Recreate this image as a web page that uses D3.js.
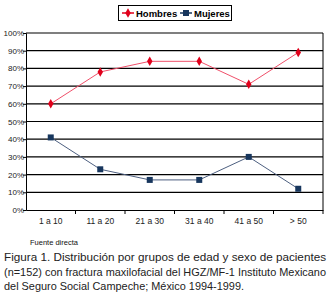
<!DOCTYPE html>
<html><head><meta charset="utf-8">
<script src="https://cdn.jsdelivr.net/npm/d3@7"></script>
<style>body{margin:0;background:#fff}svg{display:block}text{font-family:"Liberation Sans",Arial,sans-serif}</style>
</head><body><svg id="c" width="331" height="296"></svg>
<script>
const categories = ["1 a 10","11 a 20","21 a 30","31 a 40","41 a 50","> 50"];
const hombres = [60,78,84,84,71,89];
const mujeres = [41,23,17,17,30,12];
const yTicks = [0,10,20,30,40,50,60,70,80,90,100];
const caption = ["Figura 1. Distribución por grupos de edad y sexo de pacientes",
 "(n=152) con fractura maxilofacial del HGZ/MF-1 Instituto Mexicano",
 "del Seguro Social Campeche; México 1994-1999."];

const svg = d3.select("#c");
const L=26, R=323, T=33, B=210;
const x = d3.scaleBand().domain(categories).range([L,R]);
const y = d3.scaleLinear().domain([0,100]).range([B,T]);

svg.append("g").selectAll("line").data(yTicks.filter(d=>d>0)).join("line")
 .attr("x1",L).attr("x2",R).attr("y1",d=>y(d)).attr("y2",d=>y(d))
 .attr("stroke","#000").attr("stroke-width",1.2);
svg.append("line").attr("x1",R).attr("x2",R).attr("y1",T).attr("y2",B).attr("stroke","#000").attr("stroke-width",1);

const yAxis = d3.axisLeft(y).tickValues(yTicks).tickFormat(d=>d+"%").tickSize(3);
const gy = svg.append("g").attr("transform",`translate(${L},0)`).call(yAxis);
gy.selectAll("text").attr("font-size",8).attr("fill","#222").attr("x",-2).style("font-family","Liberation Sans, Arial");
gy.select(".domain").attr("stroke","#000");

const xAxis = d3.axisBottom(x).tickSize(0).tickPadding(8);
const gx = svg.append("g").attr("transform",`translate(0,${B})`).call(xAxis);
gx.selectAll("text").attr("font-size",8.5).attr("fill","#222").style("font-family","Liberation Sans, Arial");
gx.select(".domain").attr("stroke","#000");
svg.append("g").selectAll("line").data(categories).join("line")
 .attr("x1",d=>x(d)+x.bandwidth()).attr("x2",d=>x(d)+x.bandwidth())
 .attr("y1",B).attr("y2",B+4).attr("stroke","#000");

const line = d3.line().x((d,i)=>x(categories[i])+x.bandwidth()/2).y(d=>y(d));
svg.append("path").datum(hombres).attr("d",line).attr("fill","none").attr("stroke","#f0506a").attr("stroke-width",1);
svg.append("path").datum(mujeres).attr("d",line).attr("fill","none").attr("stroke","#4d5f80").attr("stroke-width",1);
svg.append("g").selectAll("path").data(hombres).join("path")
 .attr("d",d3.symbol(d3.symbolDiamond,26))
 .attr("transform",(d,i)=>`translate(${x(categories[i])+x.bandwidth()/2},${y(d)})`)
 .attr("fill","#e0001b");
svg.append("g").selectAll("rect").data(mujeres).join("rect")
 .attr("x",(d,i)=>x(categories[i])+x.bandwidth()/2-3).attr("y",d=>y(d)-3)
 .attr("width",6).attr("height",6).attr("fill","#17365d");

const lg = svg.append("g");
lg.append("rect").attr("x",118.5).attr("y",5.5).attr("width",113).attr("height",15).attr("fill","#fff").attr("stroke","#000");
lg.append("line").attr("x1",122).attr("x2",134).attr("y1",13).attr("y2",13).attr("stroke","#e0001b").attr("stroke-width",1.5);
lg.append("path").attr("d",d3.symbol(d3.symbolDiamond,26)).attr("transform","translate(128,13)").attr("fill","#e0001b");
lg.append("text").attr("x",136).attr("y",16.5).attr("font-size",9.5).attr("font-weight","bold").text("Hombres");
lg.append("line").attr("x1",180).attr("x2",192).attr("y1",13).attr("y2",13).attr("stroke","#17365d").attr("stroke-width",1.5);
lg.append("rect").attr("x",183).attr("y",10).attr("width",6).attr("height",6).attr("fill","#17365d");
lg.append("text").attr("x",194).attr("y",16.5).attr("font-size",9.5).attr("font-weight","bold").text("Mujeres");

svg.append("text").attr("x",30).attr("y",245).attr("font-size",7.5).attr("fill","#111").text("Fuente directa");
const cap = svg.append("g");
const widths=[322,322,240];
caption.forEach((t,i)=>{
 cap.append("text").attr("x",4).attr("y",261+i*14.5).attr("font-size",i===1?10.8:11.5).attr("fill","#222").text(t)
  .attr("textLength",widths[i]).attr("lengthAdjust","spacingAndGlyphs");
});
</script></body></html>
